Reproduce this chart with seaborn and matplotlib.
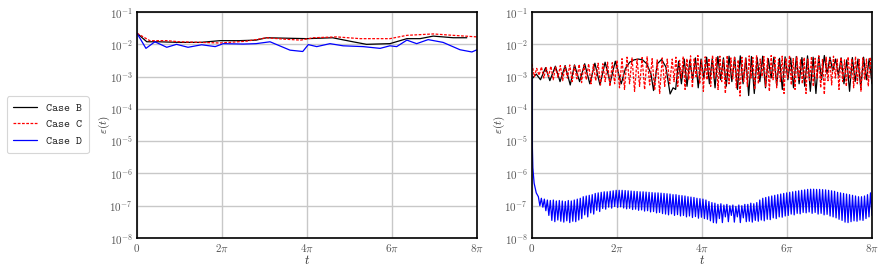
import numpy as np
import matplotlib
matplotlib.use("Agg")
import matplotlib.pyplot as plt
import seaborn as sns

PI = np.pi

# ---------------- Left panel data (t in units of pi, eps in units of 1e-2) ----------------
left_B_t = [0, 0.23, 0.5, 1.0, 1.5, 1.95, 2.4, 2.8, 3.05, 3.5, 4.0, 4.6, 5.08, 5.4, 5.95, 6.35, 6.66, 6.97, 7.44, 7.76]
left_B_v = [2.2, 1.2, 1.2, 1.15, 1.15, 1.3, 1.3, 1.35, 1.6, 1.55, 1.5, 1.6, 1.2, 1.0, 1.05, 1.5, 1.5, 1.8, 1.6, 1.6]

left_C_t = [0, 0.3, 0.7, 1.0, 1.5, 1.95, 2.57, 3.05, 3.45, 3.85, 4.15, 4.7, 5.25, 5.95, 6.35, 6.97, 7.44, 8.0]
left_C_v = [2.2, 1.3, 1.3, 1.2, 1.15, 1.1, 1.25, 1.6, 1.45, 1.35, 1.6, 1.7, 1.5, 1.5, 1.9, 2.1, 1.9, 1.7]

left_D_t = [0, 0.21, 0.42, 0.7, 0.93, 1.2, 1.52, 1.84, 2.03, 2.5, 2.8, 3.13, 3.6, 3.9, 4.03,
            4.23, 4.54, 4.85, 5.32, 5.72, 5.95, 6.11, 6.35, 6.58, 6.85, 7.2, 7.6, 7.88, 8.0]
left_D_v = [2.2, 0.75, 1.2, 0.81, 1.0, 0.81, 0.97, 0.85, 1.05, 1.02, 1.05, 1.2, 0.66, 0.6, 0.98,
            0.85, 1.05, 0.9, 0.85, 0.75, 0.9, 0.85, 1.35, 1.05, 1.4, 1.15, 0.68, 0.58, 0.68]

# ---------------- Right panel data ----------------
# Case B (units 1e-3): early explicit samples, then alternating peaks / troughs
right_B_t = [0, 0.1, 0.2, 0.32, 0.42, 0.55, 0.66, 0.78, 0.9, 1.0, 1.12, 1.24, 1.36, 1.48, 1.6,
             1.72, 1.84, 1.96, 2.1, 2.2, 2.3, 2.4, 2.5, 2.6, 2.7, 2.8, 2.86, 2.95, 3.05, 3.15,
             3.25, 3.32, 3.38]
right_B_v = [0.85, 1.2, 0.8, 1.9, 0.75, 2.1, 0.7, 2.2, 0.55, 2.3, 0.7, 2.5, 0.6, 2.6, 0.55,
             2.8, 0.65, 3.0, 0.6, 1.8, 2.8, 3.3, 3.5, 3.3, 2.5, 1.2, 0.37, 2.5, 3.4, 2.0,
             0.29, 0.45, 0.4]
right_B_peaks = [3.0, 3.5, 3.2, 3.8, 3.5, 4.0, 3.6, 4.2, 3.8, 4.3, 4.0, 4.4, 3.8, 4.2, 3.9, 4.3, 3.6, 4.0,
                 3.7, 4.1, 3.8, 4.2, 3.9, 4.4, 4.0, 4.3, 4.5, 4.0, 3.5, 3.8, 3.3, 3.9, 3.5, 4.0, 3.6]
right_B_troughs = [0.6, 0.5, 0.8, 0.45, 0.9, 0.6, 0.45, 0.8, 0.5, 0.7, 0.4, 0.6, 0.26, 0.3, 0.7, 0.45, 0.9, 0.55,
                   0.4, 0.8, 0.45, 0.6, 0.5, 0.35, 0.3, 0.8, 1.2, 1.5, 1.1, 0.6, 0.35, 0.7, 0.45, 0.8, 0.6]

# Case C (units 1e-3): three stretches of peaks / troughs
right_C_peaks_1 = [2.5, 1.8, 2.0, 1.9, 2.1, 2.0, 2.2, 2.1, 2.3, 2.2, 2.4, 2.3, 2.5, 2.4, 2.6, 2.5, 2.8, 2.7]
right_C_troughs_1 = [1.0, 1.1, 0.9, 1.0, 0.8, 0.95, 0.75, 0.9, 0.7, 0.85, 0.65, 0.8, 0.6, 0.75, 0.55, 0.7, 0.5, 0.6]
right_C_peaks_2 = [3.2, 3.6, 4.0, 3.8, 3.5, 3.9, 4.1, 3.6, 3.3, 3.8, 3.5]
right_C_troughs_2 = [0.45, 0.4, 0.6, 0.35, 0.5, 0.4, 0.55, 0.38, 0.3, 0.5, 0.6]
right_C_peaks_3 = [3.5, 4.0, 3.2, 4.2, 3.6, 4.4, 3.8, 4.5, 3.4, 4.1,
                   3.7, 4.6, 3.9, 4.3, 3.5, 4.5, 3.8, 4.2, 3.3, 4.0,
                   3.6, 4.4, 3.9, 4.6, 3.5, 4.2, 3.7, 4.5, 4.0, 3.4,
                   4.3, 3.8, 4.6, 3.6, 4.1, 3.3, 3.9, 3.5, 4.2, 3.7,
                   4.4, 3.4, 4.0, 3.6, 4.3, 3.5, 3.9, 3.3, 4.1, 3.6,
                   4.2, 3.4, 3.8, 3.5, 4.0]
right_C_troughs_3 = [0.7, 0.5, 0.9, 0.4, 0.8, 0.45, 1.0, 0.6, 0.35, 0.8,
                     0.5, 0.9, 0.4, 0.7, 0.3, 0.6, 0.85, 0.45, 0.25, 0.7,
                     0.5, 0.9, 0.4, 0.6, 1.0, 0.5, 0.35, 0.8, 0.45, 0.7,
                     0.3, 0.9, 0.55, 0.4, 0.8, 0.6, 0.3, 0.7, 0.5, 0.9,
                     0.45, 0.28, 0.75, 0.55, 0.9, 0.4, 0.7, 0.5, 0.85, 0.45,
                     0.6, 0.35, 0.8, 0.5, 0.7]

# Case D (units 1e-7): initial decay then alternating peaks / troughs
right_D_head_t = [0, 0.005, 0.02, 0.05, 0.1]
right_D_head_v = [10000, 100, 15, 5, 2.5]
right_D_peaks = [1.9, 1.7, 1.6, 1.5, 1.45, 1.5, 1.4, 1.45, 1.4, 1.35, 1.45, 1.4, 1.5, 1.6,
                 1.7, 1.9, 2.0, 2.1, 2.2, 2.4, 2.5, 2.6, 2.7, 2.7, 2.8, 2.9, 3.0, 3.0,
                 3.0, 2.95, 2.9, 2.85, 2.8, 2.75, 2.7, 2.7, 2.65, 2.6, 2.55, 2.5, 2.5, 2.45,
                 2.4, 2.35, 2.3, 2.2, 2.2, 2.1, 2.05, 2.0, 1.9, 1.85, 1.8, 1.7, 1.65, 1.6,
                 1.5, 1.35, 1.25, 1.2, 1.1, 1.15, 1.05, 1.1, 1.0, 1.05, 0.95, 1.05, 1.0, 1.1,
                 1.1, 1.2, 1.15, 1.25, 1.5, 1.7, 1.8, 1.9, 2.0, 2.1, 2.2, 2.3, 2.4, 2.5,
                 2.6, 2.7, 2.8, 2.9, 3.0, 3.1, 3.2, 3.25, 3.25, 3.2, 3.2, 3.15, 3.1, 3.0,
                 2.9, 2.8, 2.6, 2.5, 2.4, 2.3, 2.2, 2.1, 2.0, 1.9, 1.9, 2.0, 2.2, 2.5]
right_D_troughs = [1.0, 0.9, 0.7, 0.5, 0.35, 0.32, 0.36, 0.33, 0.31, 0.34, 0.3, 0.33, 0.32, 0.36,
                   0.4, 0.52, 0.45, 0.6, 0.55, 0.72, 0.66, 0.82, 0.78, 0.9, 0.84, 0.95, 0.88, 0.92,
                   0.85, 0.8, 0.83, 0.76, 0.78, 0.72, 0.74, 0.68, 0.7, 0.64, 0.66, 0.6, 0.62, 0.57,
                   0.55, 0.52, 0.56, 0.5, 0.53, 0.48, 0.5, 0.45, 0.48, 0.43, 0.46, 0.41, 0.44, 0.4,
                   0.38, 0.34, 0.3, 0.29, 0.4, 0.3, 0.45, 0.32, 0.5, 0.31, 0.45, 0.3, 0.42, 0.32,
                   0.33, 0.31, 0.35, 0.33, 0.36, 0.34, 0.38, 0.37, 0.42, 0.4, 0.45, 0.44, 0.48, 0.5,
                   0.55, 0.52, 0.58, 0.56, 0.62, 0.6, 0.64, 0.58, 0.62, 0.55, 0.58, 0.52, 0.54, 0.48,
                   0.45, 0.42, 0.38, 0.35, 0.31, 0.3, 0.32, 0.34, 0.33, 0.36, 0.35, 0.4, 0.45, 0.5]

labels = ["Case B", "Case C", "Case D"]
colors = ["black", "red", "blue"]
xtick_labels = ["$0$", r"$2\pi$", r"$4\pi$", r"$6\pi$", r"$8\pi$"]


def alternate(t0, t1, peaks, troughs, endpoint):
    """Place read peak/trough values alternately on a time stretch [t0, t1] (units of pi)."""
    v = np.empty(2 * len(peaks))
    v[0::2] = peaks
    v[1::2] = troughs
    t = np.linspace(t0, t1, len(v), endpoint=endpoint)
    return t, v


# assemble right series
tB2, vB2 = alternate(3.45, 8.0, right_B_peaks, right_B_troughs, True)
rB_t = np.concatenate([right_B_t, tB2]) * PI
rB_v = np.concatenate([right_B_v, vB2]) * 1e-3

tC1, vC1 = alternate(0.0, 2.0, right_C_peaks_1, right_C_troughs_1, False)
tC2, vC2 = alternate(2.0, 3.3, right_C_peaks_2, right_C_troughs_2, False)
tC3, vC3 = alternate(3.3, 8.0, right_C_peaks_3, right_C_troughs_3, True)
rC_t = np.concatenate([tC1, tC2, tC3]) * PI
rC_v = np.concatenate([vC1, vC2, vC3]) * 1e-3

tD, vD = alternate(0.15, 8.0, right_D_peaks, right_D_troughs, True)
rD_t = np.concatenate([right_D_head_t, tD]) * PI
rD_v = np.concatenate([right_D_head_v, vD]) * 1e-7

# ---------------- Style ----------------
sns.set_theme(style="whitegrid")
plt.rcParams["font.family"] = ["cmr10", "DejaVu Serif"]
plt.rcParams["mathtext.fontset"] = "cm"
plt.rcParams["axes.formatter.use_mathtext"] = True
plt.rcParams["axes.unicode_minus"] = False

fig = plt.figure(figsize=(8.84, 2.68), dpi=100)
axL = fig.add_axes([0.155, 0.112, 0.3846, 0.843])
axR = fig.add_axes([0.6018, 0.112, 0.3846, 0.843])

lw = 0.9
dash = (0, (2.2, 1.2))

sns.lineplot(x=np.array(left_B_t) * PI, y=np.array(left_B_v) * 1e-2, ax=axL, color="black",
             linewidth=lw, estimator=None, sort=False, label=labels[0])
sns.lineplot(x=np.array(left_C_t) * PI, y=np.array(left_C_v) * 1e-2, ax=axL, color="red",
             linewidth=lw, linestyle=dash, estimator=None, sort=False, label=labels[1])
sns.lineplot(x=np.array(left_D_t) * PI, y=np.array(left_D_v) * 1e-2, ax=axL, color="blue",
             linewidth=lw, estimator=None, sort=False, label=labels[2])

sns.lineplot(x=rB_t, y=rB_v, ax=axR, color="black", linewidth=lw, estimator=None, sort=False)
sns.lineplot(x=rC_t, y=rC_v, ax=axR, color="red", linewidth=lw, linestyle=dash,
             estimator=None, sort=False)
sns.lineplot(x=rD_t, y=rD_v, ax=axR, color="blue", linewidth=lw, estimator=None, sort=False)

handles, labs = axL.get_legend_handles_labels()
axL.get_legend().remove()

for ax in (axL, axR):
    ax.set_yscale("log")
    ax.set_ylim(1e-8, 1e-1)
    ax.set_xlim(0, 8 * PI)
    ax.set_xticks([0, 2 * PI, 4 * PI, 6 * PI, 8 * PI])
    ax.set_xticklabels(xtick_labels)
    ax.set_yticks([10.0 ** k for k in range(-8, 0)])
    ax.minorticks_off()
    ax.grid(True, color="#c8c8c8", linewidth=1.0)
    ax.tick_params(length=0, pad=3, labelsize=8, colors="#555555")
    for s in ax.spines.values():
        s.set_color("black")
        s.set_linewidth(1.2)
    ax.set_xlabel("$t$", fontsize=9, color="#333333", labelpad=0)
    ax.set_ylabel(r"$\varepsilon(t)$", fontsize=8, color="#333333", labelpad=-2)
    ax.set_facecolor("white")

leg = fig.legend(handles, labs, loc="upper left", bbox_to_anchor=(0.008, 0.64),
                 borderaxespad=0.0,
                 prop={"family": "cmtt10", "size": 8.2}, frameon=True, fancybox=True,
                 handlelength=2.1, handletextpad=0.8, borderpad=0.55, labelspacing=0.5)
leg.get_frame().set_edgecolor("#cccccc")
leg.get_frame().set_linewidth(0.8)

fig.savefig("out.png", dpi=100)
